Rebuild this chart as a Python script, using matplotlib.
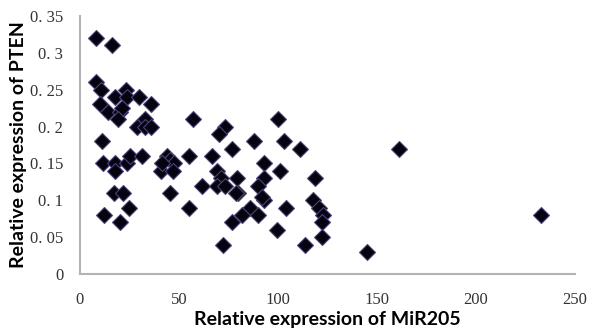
import matplotlib
matplotlib.use("Agg")
import matplotlib.pyplot as plt

mir205 = [8, 16, 8, 10.5, 17.5, 23, 23.5, 30, 36, 10, 14, 20, 21, 19, 33, 29, 33, 36, 57, 11,
          11.5, 17.5, 17.5, 23.5, 25, 31.5, 41, 44, 45.5, 47.5, 47, 41.5, 55, 17, 21.5, 45.5, 24.5, 12, 20, 55,
          61.5, 100, 73, 70, 77, 88, 103, 111, 66.5, 93, 101, 69, 71, 79.5, 93, 69, 73, 90, 80, 79,
          93, 92, 86, 82, 90, 104, 77, 99.5, 72, 113.5, 118.5, 117.5, 120.5, 122.5, 122, 122, 145, 161, 233]
pten = [0.32, 0.31, 0.26, 0.25, 0.24, 0.25, 0.24, 0.24, 0.23, 0.23, 0.22, 0.22, 0.225, 0.21, 0.21, 0.20, 0.20, 0.20, 0.21, 0.18,
        0.15, 0.15, 0.14, 0.15, 0.16, 0.16, 0.14, 0.16, 0.155, 0.15, 0.14, 0.15, 0.16, 0.11, 0.11, 0.11, 0.09, 0.08, 0.07, 0.09,
        0.12, 0.21, 0.20, 0.19, 0.17, 0.18, 0.18, 0.17, 0.16, 0.15, 0.14, 0.14, 0.13, 0.13, 0.13, 0.12, 0.12, 0.12, 0.11, 0.11,
        0.10, 0.105, 0.09, 0.08, 0.08, 0.09, 0.07, 0.06, 0.04, 0.04, 0.13, 0.10, 0.09, 0.08, 0.07, 0.05, 0.03, 0.17, 0.08]

xticks = [0, 50, 100, 150, 200, 250]
yticks = [0, 0.05, 0.1, 0.15, 0.2, 0.25, 0.3, 0.35]
ytick_labels = ["0", "0. 05", "0. 1", "0. 15", "0. 2", "0. 25", "0. 3", "0. 35"]
xlabel = "Relative expression of MiR205"
ylabel = "Relative expression of PTEN"

fig = plt.figure(figsize=(6, 3.35), dpi=100)
ax = fig.add_axes([80/600, 1 - 274/335, 495/600, 258/335])

ax.plot(mir205, pten, linestyle="none", marker="D", markersize=8.5,
        markerfacecolor="#05030f", markeredgecolor="#4a4478", markeredgewidth=0.8)

ax.set_xlim(0, 250)
ax.set_ylim(0, 0.35)
ax.set_xticks(xticks)
ax.set_xticklabels([str(t) for t in xticks])
ax.set_yticks(yticks)
ax.set_yticklabels(ytick_labels)

for s in ["top", "right"]:
    ax.spines[s].set_visible(False)
for s in ["left", "bottom"]:
    ax.spines[s].set_color("#b4b4b4")
    ax.spines[s].set_linewidth(1.5)

ax.tick_params(axis="both", length=0, labelsize=12, colors="#333333")
ax.tick_params(axis="y", pad=12)
ax.tick_params(axis="x", pad=13)
for lab in ax.get_xticklabels() + ax.get_yticklabels():
    lab.set_fontfamily("Liberation Serif")

ax.set_xlabel(xlabel, fontsize=14, fontweight="bold", fontfamily="Lato", labelpad=2)
ax.set_ylabel(ylabel, fontsize=14, fontweight="bold", fontfamily="Lato", labelpad=2)

fig.savefig("out.png", dpi=100)
